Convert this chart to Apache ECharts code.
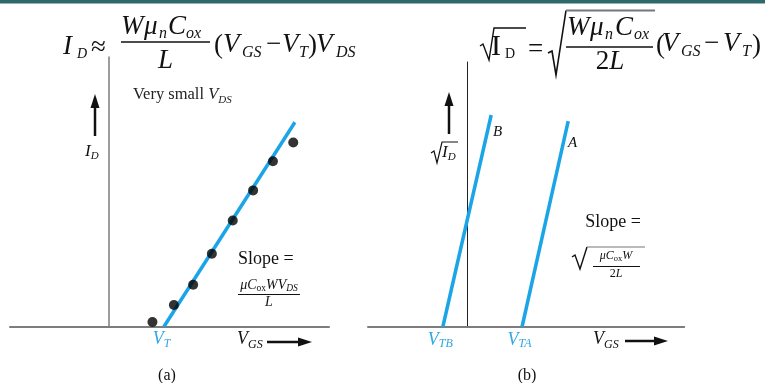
<!DOCTYPE html>
<html>
<head>
<meta charset="utf-8">
<script src="https://cdn.jsdelivr.net/npm/echarts@6/dist/echarts.min.js"></script>
<style>
  html, body { margin: 0; padding: 0; background: #fff; }
  #chart { width: 765px; height: 383px; }
</style>
</head>
<body>
<div id="chart"></div>
<script>
// ---- Panel (a): I_D versus V_GS at very small V_DS ----
const thresholdA = [1.0];                 // V_T on the V_GS axis
const thresholdASubs = ['T'];
const fitAX = [1.0, 3.38];                // straight-line fit, V_GS
const fitAY = [0, 7.58];                  // straight-line fit, I_D
const measAX = [0.79, 1.18, 1.53, 1.87, 2.25, 2.62, 2.98, 3.35];
const measAY = [0.17, 0.80, 1.55, 2.70, 3.93, 5.05, 6.13, 6.83];

// ---- Panel (b): sqrt(I_D) versus V_GS for devices A and B ----
const thresholdB = [-0.44, 1.0];          // V_TB, V_TA
const thresholdBSubs = ['TB', 'TA'];
const curveBX = [-0.44, 0.44];
const curveBY = [0, 8.0];
const curveAX = [1.0, 1.84];
const curveAY = [0, 7.77];

const BLUE = '#1ba5e6';
const BLUE_TXT = '#2ea8e0';
const INK = '#111';
const AXIS_GREY = '#7d7d7d';
const SERIF = '"Liberation Serif", "Times New Roman", serif';

const zip = (xs, ys) => xs.map((x, i) => [x, ys[i]]);

// V_x style tick labels placed at threshold voltages
function thresholdLabels(values, subs) {
  return {
    show: true,
    customValues: values,
    margin: 3,
    padding: [0, 5, 0, 0],
    formatter: v => {
      const i = values.findIndex(t => Math.abs(t - v) < 1e-6);
      return '{v|V}{s|' + (i >= 0 ? subs[i] : '') + '}';
    },
    rich: {
      v: { fontFamily: SERIF, fontStyle: 'italic', fontSize: 18, color: BLUE_TXT, lineHeight: 20 },
      s: { fontFamily: SERIF, fontStyle: 'italic', fontSize: 12, color: BLUE_TXT, lineHeight: 8, verticalAlign: 'bottom' }
    }
  };
}

// ---- text helpers for the annotations ----
const measureCtx = document.createElement('canvas').getContext('2d');
const fnt = (size, italic) => (italic ? 'italic ' : '') + size + 'px ' + SERIF;
function textW(text, size, italic) { measureCtx.font = fnt(size, italic); return measureCtx.measureText(text).width; }
function txt(x, base, text, size, italic, fill) {
  const f = fnt(size, italic);
  return {
    type: 'text', z: 100, silent: true,
    style: {
      text, x, y: base - 0.34 * size, font: f, fill: fill || INK,
      textAlign: 'left', align: 'left', textVerticalAlign: 'middle', verticalAlign: 'middle'
    }
  };
}
// a run of tokens [text, size, italic, baselineShift]
function run(x, base, parts, center, fill) {
  const total = parts.reduce((s, p) => s + textW(p[0], p[1], p[2]), 0);
  let cx = center ? x - total / 2 : x;
  return parts.map(p => {
    const e = txt(cx, base + (p[3] || 0), p[0], p[1], p[2], fill);
    cx += textW(p[0], p[1], p[2]);
    return e;
  });
}
const seg = (x1, y1, x2, y2, w, c) => ({ type: 'line', z: 100, silent: true, shape: { x1, y1, x2, y2 }, style: { stroke: c || INK, lineWidth: w || 1 } });
const poly = (pts, w, c) => ({ type: 'polyline', z: 100, silent: true, shape: { points: pts }, style: { stroke: c || INK, lineWidth: w || 1, fill: 'none', lineJoin: 'miter' } });
const tri = (pts, c) => ({ type: 'polygon', z: 100, silent: true, shape: { points: pts }, style: { fill: c || INK } });

const graphics = [
  // header band
  { type: 'rect', z: 100, silent: true, shape: { x: 0, y: 0, width: 765, height: 3.5 }, style: { fill: '#2e6a69' } },

  // I_D ≈ (W μn Cox / L)(V_GS − V_T) V_DS
  txt(63, 56, 'I', 27, true), txt(77, 59, 'D', 14, true),
  txt(91, 57, '\u2248', 27, false),
  txt(121, 36, 'W', 27, true), txt(144, 36, '\u03bc', 27, true), txt(159, 39, 'n', 16, true),
  txt(168, 36, 'C', 27, true), txt(186, 39, 'ox', 16, true),
  seg(121, 42, 210, 42, 1.3),
  txt(158, 70, 'L', 27, true),
  txt(214, 55, '(', 27, false), txt(223, 54, 'V', 27, true), txt(242, 58, 'GS', 16, true),
  txt(266, 54, '\u2212', 27, false), txt(282, 54, 'V', 27, true), txt(299, 58, 'T', 16, true),
  txt(308, 55, ')', 27, false), txt(316, 54, 'V', 27, true), txt(336, 58, 'DS', 16, true),

  // √I_D = √(W μn Cox / 2L)(V_GS − V_T)
  poly([[480, 46], [483, 44], [489, 60], [494, 28], [526, 28]], 1.4),
  txt(491, 57, 'I', 30, false), txt(505, 59, 'D', 14, false),
  txt(528, 59, '=', 27, false),
  poly([[548, 53], [552, 51], [556, 75], [566, 10.5]], 1.6),
  seg(566, 10.5, 655, 10.5, 2, '#777'),
  txt(567, 37, 'W', 27, true), txt(590, 37, '\u03bc', 27, true), txt(605, 40, 'n', 16, true),
  txt(615, 37, 'C', 27, true), txt(634, 40, 'ox', 16, true),
  seg(566, 47, 653, 47, 1.3),
  ...run(610, 71, [['2', 27, false], ['L', 27, true]], true),
  txt(656, 55, '(', 27, false), txt(662, 53, 'V', 27, true), txt(681, 57, 'GS', 16, true),
  txt(704, 53, '\u2212', 27, false), txt(723, 53, 'V', 27, true), txt(742, 57, 'T', 16, true),
  txt(752, 55, ')', 27, false),

  // panel (a) annotations
  ...run(133, 100, [['Very small ', 16.5, false], ['V', 16.5, true], ['DS', 11, true, 4]], false, '#222'),
  seg(95, 136, 95, 106, 2.5), tri([[95, 94], [90.5, 108], [99.5, 108]]),
  ...run(85, 157, [['I', 17, true], ['D', 11, true, 3]]),
  txt(238, 265, 'Slope =', 18, false),
  ...run(269, 290, [['\u03bc', 14, true], ['C', 14, true], ['ox', 9.5, false, 2], ['W', 14, true], ['V', 14, true], ['DS', 9.5, true, 2]], true),
  seg(238, 294.5, 300, 294.5, 1),
  ...run(269, 307, [['L', 14, true]], true),
  ...run(237, 345, [['V', 18, true], ['GS', 12, true, 4]]),
  seg(267, 342, 300, 342, 2.5), tri([[312, 342], [298, 337.5], [298, 346.5]]),
  ...run(167, 381, [['(a)', 16, false]], true),

  // panel (b) annotations
  poly([[431, 153], [434, 151], [437, 163], [442, 142], [458, 142]], 1.2),
  ...run(442, 158, [['I', 17, true], ['D', 11, true, 3]]),
  seg(449, 134, 449, 104, 2.5), tri([[449, 92], [444.5, 106], [453.5, 106]]),
  txt(493, 137, 'B', 15, true), txt(568, 148, 'A', 15, true),
  ...run(613, 228, [['Slope =', 18, false]], true),
  poly([[572, 257], [575, 255], [580, 269], [587, 247]], 1.4),
  seg(587, 247, 645, 247, 1.2, '#777'),
  ...run(616, 260, [['\u03bc', 12, true], ['C', 12, true], ['ox', 8.5, false, 2], ['W', 12, true]], true),
  seg(593, 266.5, 640, 266.5, 1),
  ...run(616, 278, [['2', 12, false], ['L', 12, true]], true),
  ...run(593, 345, [['V', 18, true], ['GS', 12, true, 4]]),
  seg(625, 341, 656, 341, 2.5), tri([[668, 341], [654, 336.5], [654, 345.5]]),
  ...run(527, 381, [['(b)', 16, false]], true)
];

const chart = echarts.init(document.getElementById('chart'), null, { renderer: 'canvas' });
chart.setOption({
  animation: false,
  backgroundColor: '#ffffff',
  grid: [
    { left: 10, top: 57, width: 319, height: 269.5 },
    { left: 368, top: 62, width: 316.25, height: 265 }
  ],
  xAxis: [
    {
      gridIndex: 0, type: 'value', min: -1.8, max: 4,
      axisLine: { show: true, onZero: true, lineStyle: { color: AXIS_GREY, width: 2 } },
      axisTick: { show: false }, splitLine: { show: false },
      axisLabel: thresholdLabels(thresholdA, thresholdASubs)
    },
    {
      gridIndex: 1, type: 'value', min: -1.8, max: 3.95,
      axisLine: { show: true, onZero: true, lineStyle: { color: AXIS_GREY, width: 2 } },
      axisTick: { show: false }, splitLine: { show: false },
      axisLabel: thresholdLabels(thresholdB, thresholdBSubs)
    }
  ],
  yAxis: [
    {
      gridIndex: 0, type: 'value', min: 0, max: 10,
      axisLine: { show: true, onZero: true, lineStyle: { color: AXIS_GREY, width: 1.5 } },
      axisTick: { show: false }, axisLabel: { show: false }, splitLine: { show: false }
    },
    {
      gridIndex: 1, type: 'value', min: 0, max: 10,
      axisLine: { show: true, onZero: true, lineStyle: { color: '#222', width: 1 } },
      axisTick: { show: false }, axisLabel: { show: false }, splitLine: { show: false }
    }
  ],
  series: [
    {
      type: 'line', xAxisIndex: 0, yAxisIndex: 0, data: zip(fitAX, fitAY),
      showSymbol: false, silent: true, lineStyle: { color: BLUE, width: 3.5 }, z: 2
    },
    {
      type: 'scatter', xAxisIndex: 0, yAxisIndex: 0, data: zip(measAX, measAY),
      symbol: 'circle', symbolSize: 10, silent: true, itemStyle: { color: '#000' }, z: 3
    },
    {
      type: 'line', xAxisIndex: 1, yAxisIndex: 1, data: zip(curveBX, curveBY),
      showSymbol: false, silent: true, lineStyle: { color: BLUE, width: 3.5 }, z: 2
    },
    {
      type: 'line', xAxisIndex: 1, yAxisIndex: 1, data: zip(curveAX, curveAY),
      showSymbol: false, silent: true, lineStyle: { color: BLUE, width: 3.5 }, z: 2
    }
  ],
  graphic: graphics
});
</script>
</body>
</html>
